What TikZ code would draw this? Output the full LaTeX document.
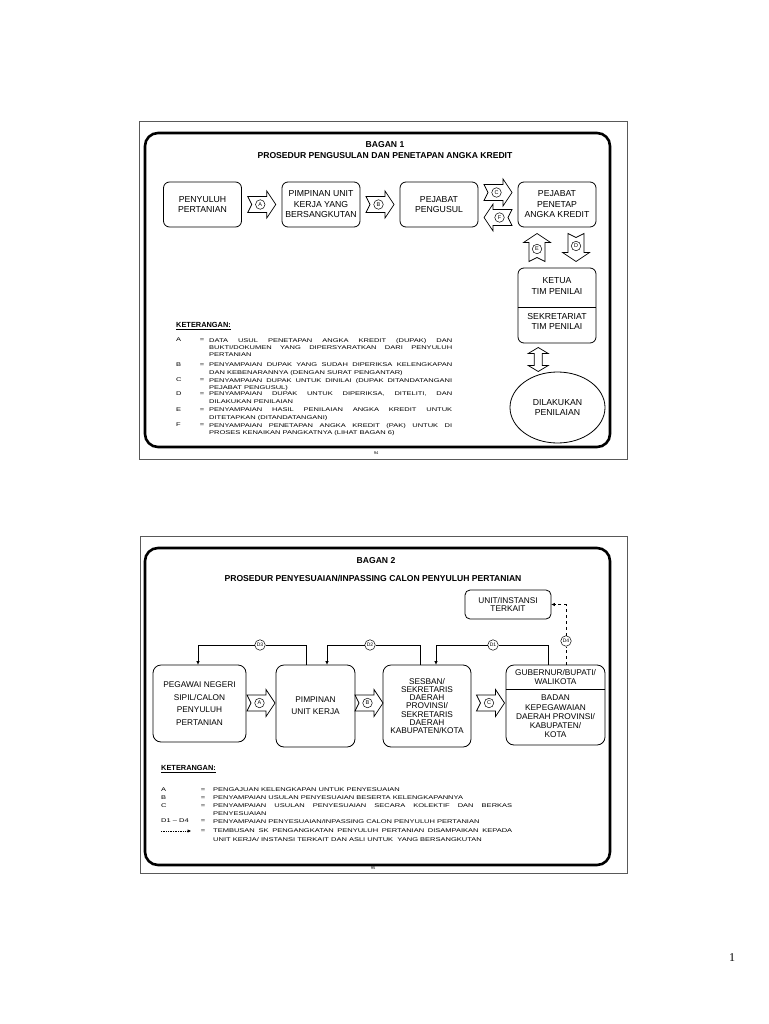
\documentclass[tikz,border=0pt]{standalone}
\usepackage{fontspec}
\setmainfont{Liberation Sans}
\newfontfamily\legendfont[FakeStretch=1.39]{Liberation Sans}
\newfontfamily\pagefont{Liberation Serif}
\usetikzlibrary{arrows.meta, shapes.geometric, calc}
\hyphenpenalty=10000
\exhyphenpenalty=10000

\begin{document}
\begin{tikzpicture}[
        x=1pt, y=-1pt,
        >={Triangle[length=3.5pt, width=3pt]},
        frame/.style={draw=black!65, line width=1pt},
        panel/.style={draw, line width=2.6pt, rounded corners=13pt},
        title/.style={inner sep=0pt, font=\fontsize{8.6}{10}\selectfont\bfseries},
        box/.style={draw, line width=0.8pt, rounded corners=6pt, align=center, inner sep=0pt,
            minimum width=78pt, minimum height=45pt, font=\fontsize{8.7}{10.5}\selectfont},
        boxtext/.style={align=center, inner sep=0pt, font=\fontsize{8.7}{10.2}\selectfont},
        letter/.style={circle, draw, fill=white, line width=0.5pt, inner sep=0pt,
            minimum size=9.5pt, font=\fontsize{5.5}{6}\selectfont},
        tag/.style={letter, minimum size=10.5pt, font=\fontsize{5}{6}\selectfont},
        blockline/.style={draw, fill=white, line width=0.7pt},
        link/.style={draw, line width=0.7pt},
        keyline/.style={line width=0.6pt, dash pattern=on 1pt off 0.7pt},
        keyhead/.style={anchor=west, inner sep=0pt, font=\fontsize{7.4}{8}\selectfont\bfseries},
        legkey/.style={inner sep=0pt, text height=3.9pt, text depth=0pt,
            font=\legendfont\fontsize{5.4}{7.4}\selectfont},
        legtext/.style={anchor=north west, inner sep=0pt, align=justify,
            font=\legendfont\fontsize{5.4}{7.4}\selectfont},
        pageno/.style={inner sep=0pt, font=\fontsize{4}{5}\selectfont},
        notch/.pic={
            \draw[blockline] (-14,-8) -- (5,-8) -- (5,-13.5) -- (14,0) -- (5,13.5)
                -- (5,8) -- (-14,8) -- (-10,0) -- cycle;
            \node[letter] (-c) at (-1.5,0) {\tikzpictext};
        },
        twoway/.pic={
            \draw[blockline] (-12,0) -- (-6,-10) -- (-6,-4) -- (6,-4) -- (6,-10) -- (12,0)
                -- (6,10) -- (6,4) -- (-6,4) -- (-6,10) -- cycle;
        },
    ]
    \useasboundingbox (0,0) rectangle (768,1024);

    % Bagan 1
    \draw[frame] (139,122) rectangle (627,459);
    \draw[panel] (145,133) rectangle (610,447);
    \node[title] (title1) at (385,145) {BAGAN 1};
    \node[title] (sub1) at (385,156) {PROSEDUR PENGUSULAN DAN PENETAPAN ANGKA KREDIT};

    % Draw the boxes of the first procedure
    \node[box] (penyuluh) at (202.5,204.5) {PENYULUH\\PERTANIAN};
    \node[box] (pimpinan) at (321,204.5) {PIMPINAN UNIT\\KERJA YANG\\BERSANGKUTAN};
    \node[box] (pengusul) at (439,204.5) {PEJABAT\\PENGUSUL};
    \node[box] (penetap) at (557,204.5) {PEJABAT\\PENETAP\\ANGKA KREDIT};
    \node[box, minimum height=75pt] (tim) at (557,305.5) {};
    \node[boxtext] (ketua) at (557,286) {KETUA\\TIM PENILAI};
    \node[boxtext] (sekretariat) at (557,321.5) {SEKRETARIAT\\TIM PENILAI};
    \draw[line width=0.8pt] (tim.west |- 0,307) -- (tim.east |- 0,307);
    \node[box, ellipse, minimum width=95pt, minimum height=71pt] (penilaian) at (557.5,407.5) {DILAKUKAN\\PENILAIAN};

    % Block arrows between the boxes
    \pic[pic text=A] (arrA) at ($(penyuluh.east)!0.5!(pimpinan.west)$) {notch};
    \pic[pic text=B] (arrB) at ($(pimpinan.east)!0.5!(pengusul.west)$) {notch};
    \pic[pic text=C] (arrC) at ($(pengusul.east)!0.5!(penetap.west)+(0,-12)$) {notch};
    \pic[pic text=F, rotate=180] (arrF) at ($(pengusul.east)!0.5!(penetap.west)+(0,13)$) {notch};
    \pic[pic text=E, rotate=90] (arrE) at ($(penetap.south)!0.5!(tim.north)+(-20,0)$) {notch};
    \pic[pic text=D, rotate=-90] (arrD) at ($(penetap.south)!0.5!(tim.north)+(19,0)$) {notch};
    \pic[rotate=90] (arrTP) at ($(tim.south)!0.5!(penilaian.north)+(-19,2)$) {twoway};

    % Keterangan of the first procedure
    \node[keyhead] (keter1) at (176,326) {\underline{KETERANGAN:}};
    \foreach \lab/\y/\txt in {
        A/340/{DATA USUL PENETAPAN ANGKA KREDIT (DUPAK) DAN\linebreak BUKTI/DOKUMEN YANG DIPERSYARATKAN DARI PENYULUH\linebreak PERTANIAN},
        B/365/{PENYAMPAIAN DUPAK YANG SUDAH DIPERIKSA KELENGKAPAN\linebreak DAN KEBENARANNYA (DENGAN SURAT PENGANTAR)},
        C/380/{PENYAMPAIAN DUPAK UNTUK DINILAI (DUPAK DITANDATANGANI\linebreak PEJABAT PENGUSUL)},
        D/394/{PENYAMPAIAN DUPAK UNTUK DIPERIKSA, DITELITI, DAN\linebreak DILAKUKAN PENILAIAN},
        E/410/{PENYAMPAIAN HASIL PENILAIAN ANGKA KREDIT UNTUK\linebreak DITETAPKAN (DITANDATANGANI)},
        F/425/{PENYAMPAIAN PENETAPAN ANGKA KREDIT (PAK) UNTUK DI\linebreak PROSES KENAIKAN PANGKATNYA (LIHAT BAGAN 6)}
    }{
        \node[legkey, anchor=west] (key1-\lab) at (176,\y) {\lab};
        \node[legkey] (eq1-\lab) at (202,\y) {=};
        \node[legtext, text width=243pt] (txt1-\lab) at (209,\y-2) {\txt};
    }
    \node[pageno] (p94) at (376,453) {94};

    % Bagan 2
    \draw[frame] (140,536) rectangle (627,873);
    \draw[panel] (145,548) rectangle (610,865);
    \node[title] (title2) at (376,561) {BAGAN 2};
    \node[title] (sub2) at (373,578) {PROSEDUR PENYESUAIAN/INPASSING CALON PENYULUH PERTANIAN};

    % Draw the boxes of the second procedure
    \node[box, minimum width=93pt, minimum height=77pt, rounded corners=8pt,
        font=\fontsize{8.3}{12.4}\selectfont] (pns) at (199.5,703.5) {PEGAWAI NEGERI\\SIPIL/CALON\\PENYULUH\\PERTANIAN};
    \node[box, minimum width=79pt, minimum height=82pt, rounded corners=8pt,
        font=\fontsize{8.3}{11.7}\selectfont] (pimpinan2) at (315.5,706) {PIMPINAN\\UNIT KERJA};
    \node[box, minimum width=88pt, minimum height=82pt, rounded corners=8pt,
        font=\fontsize{8.3}{8.3}\selectfont] (sesban) at (427,706) {SESBAN/\\SEKRETARIS\\DAERAH\\PROVINSI/\\SEKRETARIS\\DAERAH\\KABUPATEN/KOTA};
    \node[box, minimum width=99pt, minimum height=80pt, rounded corners=8pt] (gub) at (555.5,705) {};
    \node[boxtext, font=\fontsize{8.3}{9}\selectfont] (gubtop) at (555.5,677.5) {GUBERNUR/BUPATI/\\WALIKOTA};
    \node[boxtext, font=\fontsize{8.3}{9.3}\selectfont] (gubbot) at (555.5,716.5) {BADAN\\KEPEGAWAIAN\\DAERAH PROVINSI/\\KABUPATEN/\\KOTA};
    \draw[line width=0.8pt] (gub.west |- 0,689) -- (gub.east |- 0,689);
    \node[box, minimum width=86pt, minimum height=29pt, rounded corners=5pt,
        font=\fontsize{8.3}{8.5}\selectfont] (unit) at (508,604.5) {UNIT/INSTANSI\\TERKAIT};

    \pic[pic text=A] (arr2A) at (261,703) {notch};
    \pic[pic text=B] (arr2B) at (369,703) {notch};
    \pic[pic text=C] (arr2C) at (490.5,703) {notch};

    % Connectors D1 - D4
    \node[tag] (d3) at (260,645) {D3};
    \node[tag] (d2) at (370,645) {D2};
    \node[tag] (d1) at (493,645) {D1};
    \node[tag] (d4) at (566,641) {D4};
    \draw[link] (306,0 |- pimpinan2.north) |- (d3.east);
    \draw[link, ->] (d3.west) -| (198,0 |- pns.north);
    \draw[link] (420,0 |- sesban.north) |- (d2.east);
    \draw[link, ->] (d2.west) -| (327,0 |- pimpinan2.north);
    \draw[link] (548,0 |- gub.north) |- (d1.east);
    \draw[link, ->] (d1.west) -| (436,0 |- sesban.north);
    \draw[link, dashed] (566,0 |- gub.north) -- (d4);
    \draw[link, dashed, ->] (d4) |- (unit.east);

    % Keterangan of the second procedure
    \node[keyhead] (keter2) at (161,769) {\underline{KETERANGAN:}};
    \foreach \n/\lab/\y/\txt in {
        1/A/790/{PENGAJUAN KELENGKAPAN UNTUK PENYESUAIAN},
        2/B/798/{PENYAMPAIAN USULAN PENYESUAIAN BESERTA KELENGKAPANNYA},
        3/C/806/{PENYAMPAIAN USULAN PENYESUAIAN SECARA KOLEKTIF DAN BERKAS\linebreak PENYESUAIAN},
        4/D1 – D4/821/{PENYAMPAIAN PENYESUAIAN/INPASSING CALON PENYULUH PERTANIAN}
    }{
        \node[legkey, anchor=west] (key2-\n) at (161,\y) {\lab};
        \node[legkey] (eq2-\n) at (203,\y) {=};
        \node[legtext, text width=299pt] (txt2-\n) at (213,\y-2) {\txt};
    }
    \coordinate (dots-a) at (161,831);
    \coordinate (dots-b) at (191,831);
    \draw[keyline, ->] (dots-a) -- (dots-b);
    \node[legkey] (eq2-5) at (203,831) {=};
    \node[legtext, text width=299pt, font=\legendfont\fontsize{5.4}{9}\selectfont] (txt2-5) at (213,829)
        {TEMBUSAN SK PENGANGKATAN PENYULUH PERTANIAN DISAMPAIKAN KEPADA\linebreak UNIT KERJA/ INSTANSI TERKAIT DAN ASLI UNTUK\ \ YANG BERSANGKUTAN};
    \node[pageno] (p95) at (373,868) {95};

    \node[inner sep=0pt, font=\pagefont\fontsize{12}{14}\selectfont] (pagenum) at (732,958) {1};
\end{tikzpicture}
\end{document}
